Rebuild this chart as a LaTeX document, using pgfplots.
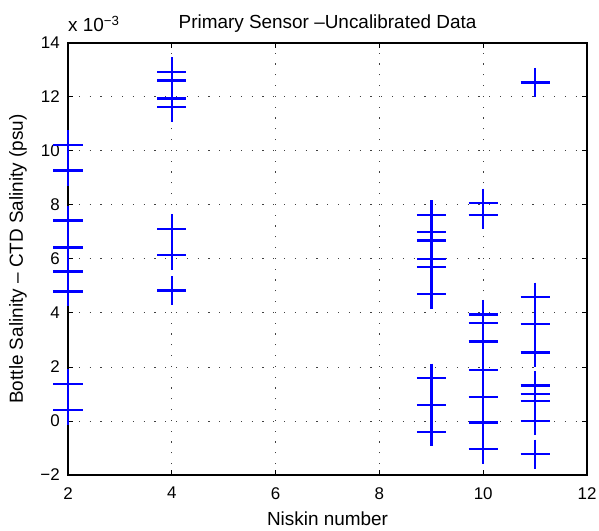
\documentclass[border=0pt]{standalone}
\usepackage{fontspec}
\setmainfont{Liberation Sans}
\usepackage{pgfplots}
\pgfplotsset{compat=1.18}

\definecolor{mblue}{RGB}{0,0,255}

\begin{document}
\begin{tikzpicture}
\begin{axis}[
    scale only axis,
    width=519bp, height=432bp,
    xmin=2, xmax=12, ymin=-2, ymax=14,
    xtick={2,4,...,12},
    xticklabels={2,4,6,8,10,12},
    ytick={-2,0,...,14},
    yticklabels={−2,0,2,4,6,8,10,12,14},
    tick align=inside,
    major tick length=5bp,
    tick style={black, line width=1bp},
    axis line style={black, line width=2bp},
    grid=major,
    major grid style={black!75, line width=1bp, dash pattern=on 1.2bp off 9.6bp},
    ticklabel style={font=\fontsize{17}{20}\selectfont, inner sep=0pt},
    xticklabel style={yshift=-12bp},
    yticklabel style={xshift=-8bp},
    title={Primary Sensor –Uncalibrated Data},
    title style={at={(0.5,1)}, anchor=base, yshift=9bp, font=\fontsize{19}{22}\selectfont},
    xlabel={Niskin number},
    xlabel style={at={(0.5,0)}, anchor=base, yshift=-50bp, font=\fontsize{19}{22}\selectfont},
    ylabel={Bottle Salinity – CTD Salinity (psu)},
    ylabel style={at={(0,0.5)}, anchor=center, yshift=50bp, font=\fontsize{19}{22}\selectfont},
    clip=false,
]
\addplot[only marks, mark=+, mark size=14.5bp, mark options={line width=2.4bp}, color=mblue]
coordinates {
(2,10.23) (2,9.30) (2,9.25) (2,7.43) (2,6.43) (2,5.53) (2,4.80) (2,1.38) (2,0.40)
(4,12.93) (4,12.61) (4,11.94) (4,11.62) (4,7.12) (4,6.14) (4,4.83)
(9,7.63) (9,7.01) (9,6.69) (9,6.01) (9,5.70) (9,4.70) (9,1.59) (9,0.59) (9,-0.40)
(10,8.07) (10,7.64) (10,3.95) (10,3.62) (10,2.95) (10,1.90) (10,0.90) (10,-0.05) (10,-1.04)
(11,12.54) (11,4.59) (11,3.59) (11,2.53) (11,1.32) (11,1.00) (11,0.74) (11,0.01) (11,-1.23)
};
\coordinate (sw) at (rel axis cs:0,0);
\coordinate (ne) at (rel axis cs:1,1);
\node[anchor=base west, inner sep=0pt, font=\fontsize{19}{22}\selectfont]
  at ([yshift=11.3bp]rel axis cs:0,1) {x 10\textsuperscript{−3}};
\end{axis}
\pgfresetboundingbox
\path ([xshift=-68bp,yshift=-56bp]sw) rectangle ([xshift=12bp,yshift=43bp]ne);
\end{tikzpicture}
\end{document}
